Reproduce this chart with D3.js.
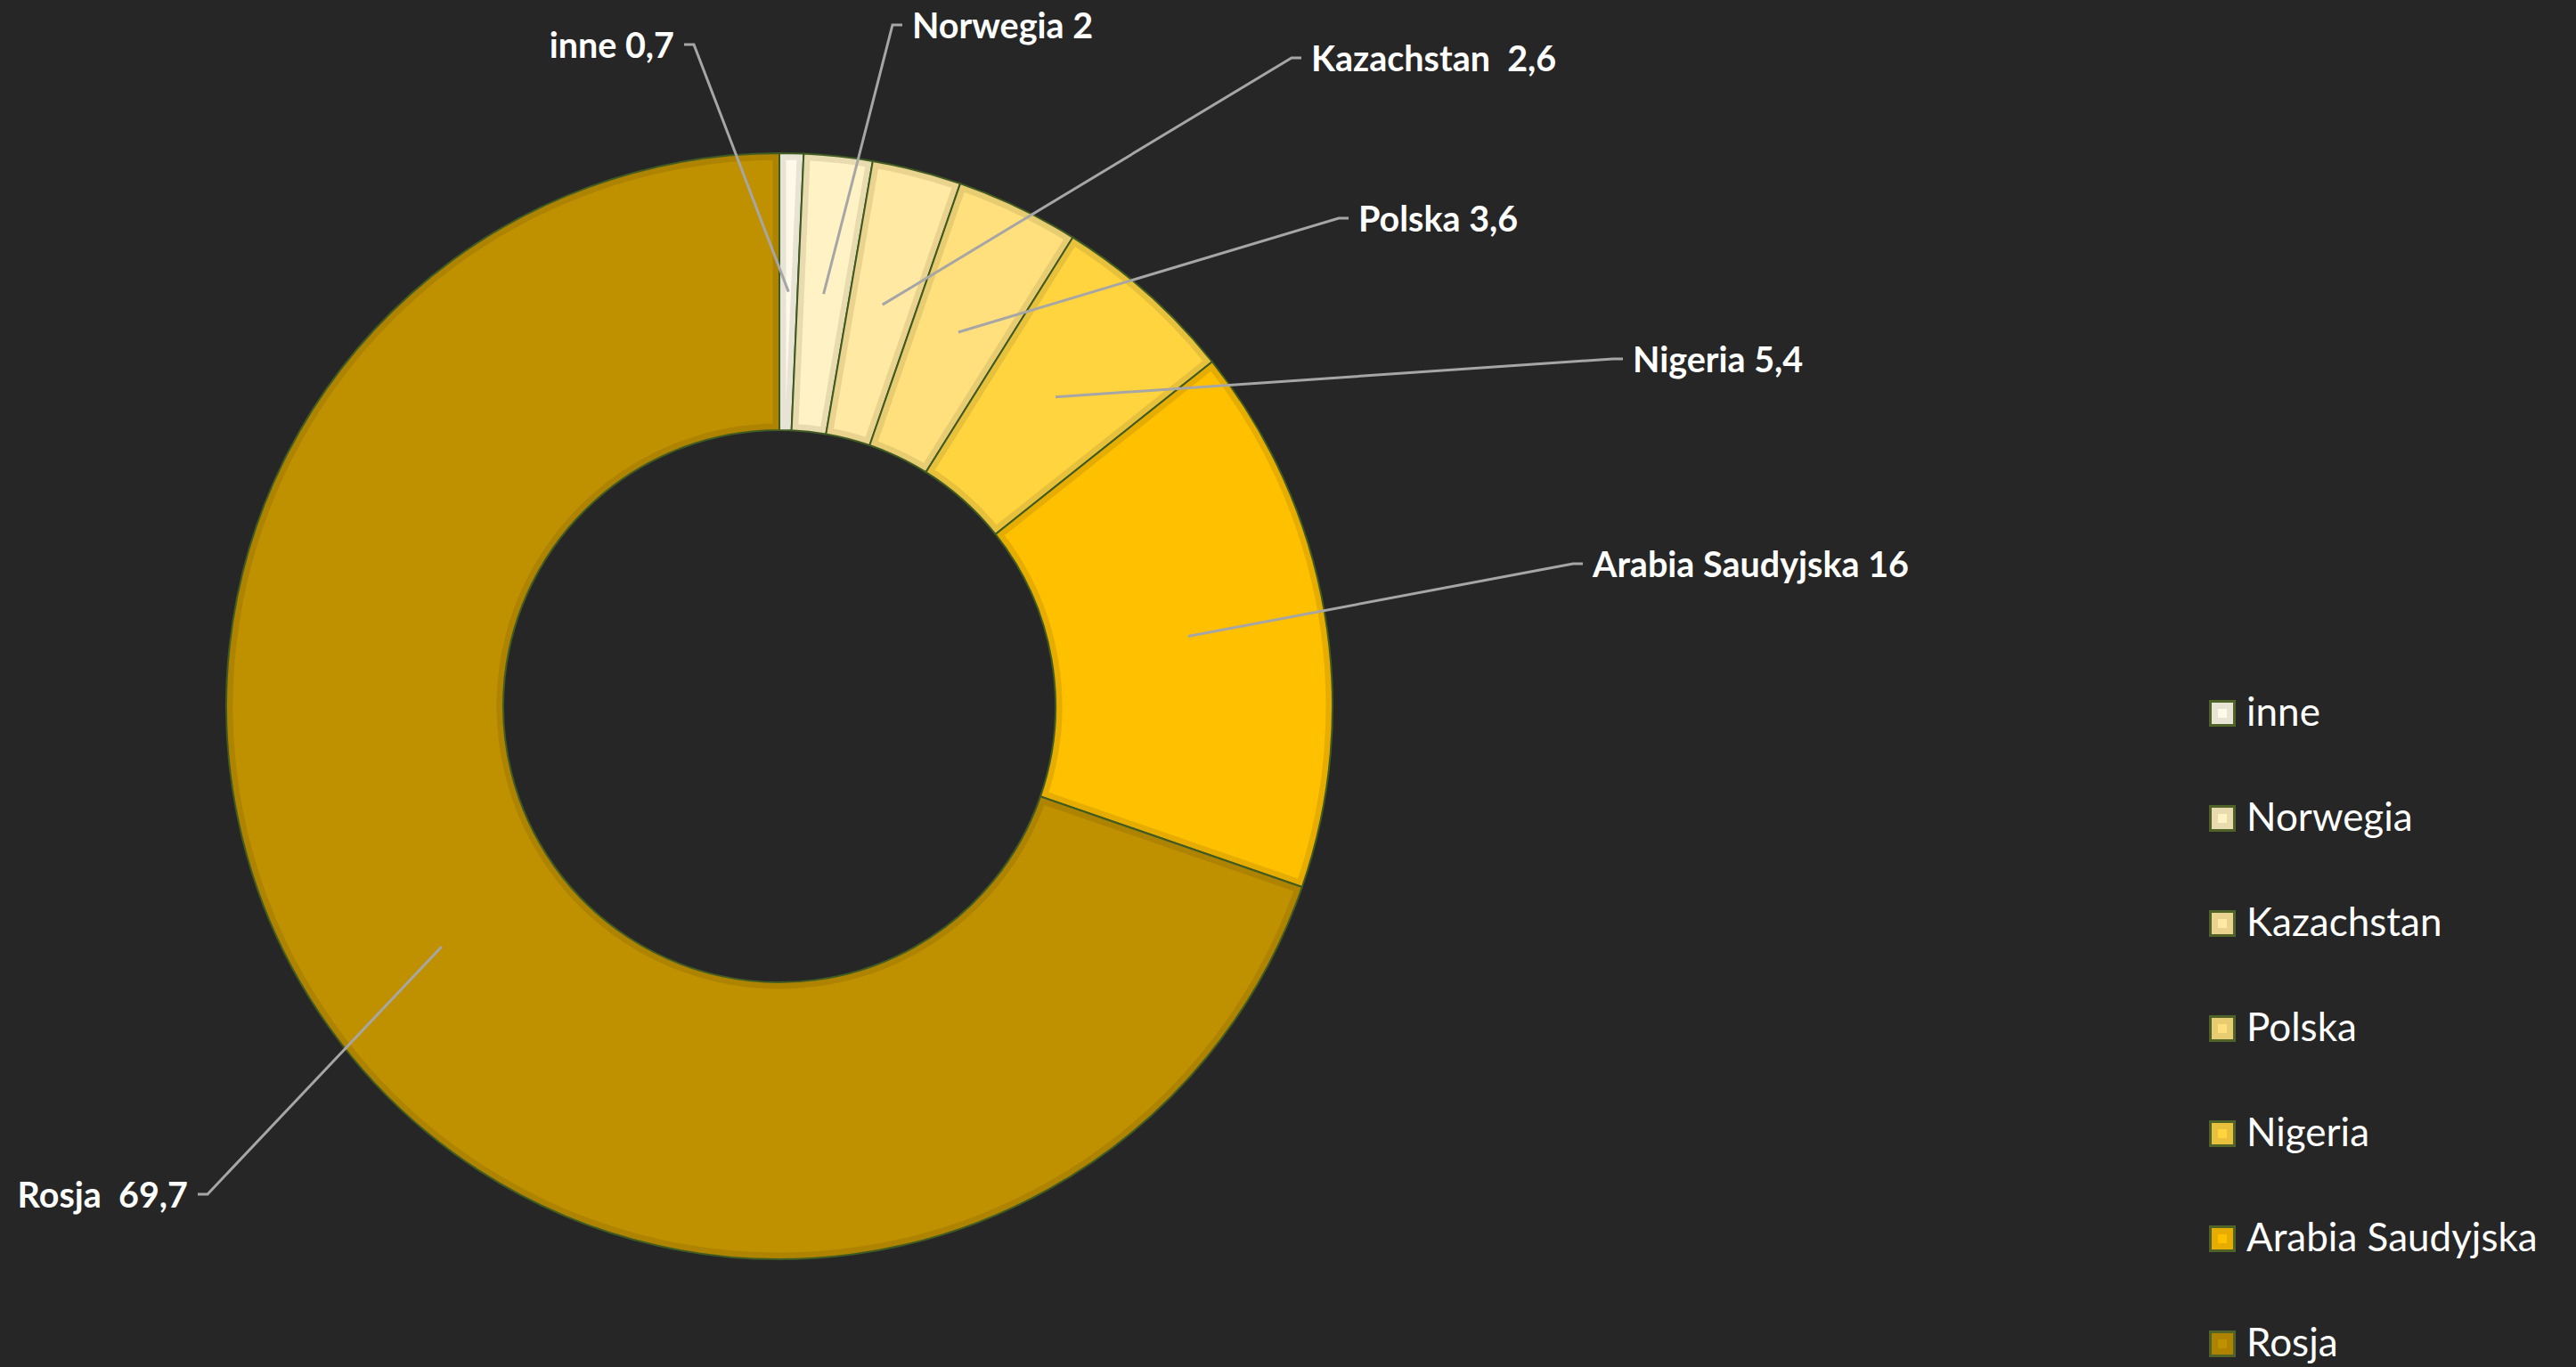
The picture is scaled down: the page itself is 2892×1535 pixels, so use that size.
<!DOCTYPE html>
<html>
<head>
<meta charset="utf-8">
<script src="https://cdn.jsdelivr.net/npm/d3@7"></script>
<style>
  html, body { margin: 0; padding: 0; background: #262626; }
  svg { display: block; }
  text { white-space: pre; }
</style>
</head>
<body>
<svg id="chart" width="2892" height="1535"></svg>
<script>
// Categories and shares (%) in clockwise order from 12 o'clock
const categories = ["inne", "Norwegia", "Kazachstan", "Polska", "Nigeria", "Arabia Saudyjska", "Rosja"];
const shares = [0.7, 2, 2.6, 3.6, 5.4, 16, 69.7];
// Separator between name and value in each data label
const labelSeparators = [" ", " ", "  ", " ", " ", " ", "  "];

// Slice fills and their inner edge shade
const fills = ["#FFF9EA", "#FFF2C4", "#FFE9A3", "#FFE07D", "#FFD43F", "#FFC000", "#BF9000"];
const edges = ["#E7E4D6", "#E9DBB0", "#E9D38E", "#E8CC72", "#E8C13C", "#E6AD00", "#AD8300"];
const outline = "#3F5A22";

// Label anchor points (where the leader line meets its short horizontal tick)
const labelAnchors = [
  { x: 779,  y: 50,   side: "left"  },
  { x: 1002, y: 28,   side: "right" },
  { x: 1450, y: 65,   side: "right" },
  { x: 1503, y: 245,  side: "right" },
  { x: 1811, y: 403,  side: "right" },
  { x: 1766, y: 633,  side: "right" },
  { x: 233,  y: 1341, side: "left"  }
];

const data = categories.map((c, i) => ({ name: c, value: shares[i], i }));
const fmt = v => String(v).replace(".", ",");

const svg = d3.select("#chart");
const cx = 875, cy = 793;
const outerR = 621, innerR = 310;

const pie = d3.pie().sort(null).value(d => d.value).startAngle(0).endAngle(2 * Math.PI);
const arc = d3.arc().innerRadius(innerR).outerRadius(outerR);
const arcs = pie(data);

const defs = svg.append("defs");
const g = svg.append("g").attr("transform", `translate(${cx},${cy})`);

arcs.forEach((a, k) => {
  defs.append("clipPath").attr("id", "clip" + k)
    .append("path").attr("d", arc(a));
});

const slices = g.selectAll("g.slice").data(arcs).join("g").attr("class", "slice");
slices.append("path")
  .attr("d", arc)
  .attr("fill", d => fills[d.data.i]);
// inset edge band
slices.append("path")
  .attr("d", arc)
  .attr("fill", "none")
  .attr("stroke", d => edges[d.data.i])
  .attr("stroke-width", 15)
  .attr("clip-path", (d, k) => `url(#clip${k})`);
// thin outline
slices.append("path")
  .attr("d", arc)
  .attr("fill", "none")
  .attr("stroke", outline)
  .attr("stroke-width", 2)
  .attr("stroke-linejoin", "miter");

// Leader lines and data labels
const tick = 11, gap = 11;
const labels = svg.append("g");
arcs.forEach(a => {
  const i = a.data.i;
  const [px, py] = arc.centroid(a);
  const an = labelAnchors[i];
  const dir = an.side === "right" ? 1 : -1;
  labels.append("polyline")
    .attr("points", [[cx + px, cy + py], [an.x, an.y], [an.x + dir * tick, an.y]].map(p => p.join(",")).join(" "))
    .attr("fill", "none")
    .attr("stroke", "#A6A6A6")
    .attr("stroke-width", 3);
  labels.append("text")
    .attr("x", an.x + dir * (tick + gap))
    .attr("y", an.y + 15)
    .attr("text-anchor", an.side === "right" ? "start" : "end")
    .attr("fill", "#FFFFFF")
    .attr("font-family", "Lato, 'Open Sans', sans-serif")
    .attr("font-weight", 700)
    .attr("font-size", 39.5)
    .text(a.data.name + labelSeparators[i] + fmt(a.data.value));
});

// Legend
const legend = svg.append("g").attr("transform", "translate(2480,786)");
const rowH = 118;
const items = legend.selectAll("g").data(data).join("g")
  .attr("transform", (d, k) => `translate(0,${k * rowH})`);
items.append("rect")
  .attr("x", 1.5).attr("y", 1.5).attr("width", 27).attr("height", 27)
  .attr("fill", d => edges[d.i])
  .attr("stroke", "#4F6228").attr("stroke-width", 3);
items.append("rect")
  .attr("x", 10).attr("y", 10).attr("width", 10).attr("height", 10)
  .attr("fill", d => fills[d.i]);
items.append("text")
  .attr("x", 42).attr("y", 29)
  .attr("fill", "#FFFFFF")
  .attr("font-family", "Lato, 'Open Sans', sans-serif")
  .attr("font-size", 44)
  .text(d => d.name);
</script>
</body>
</html>
